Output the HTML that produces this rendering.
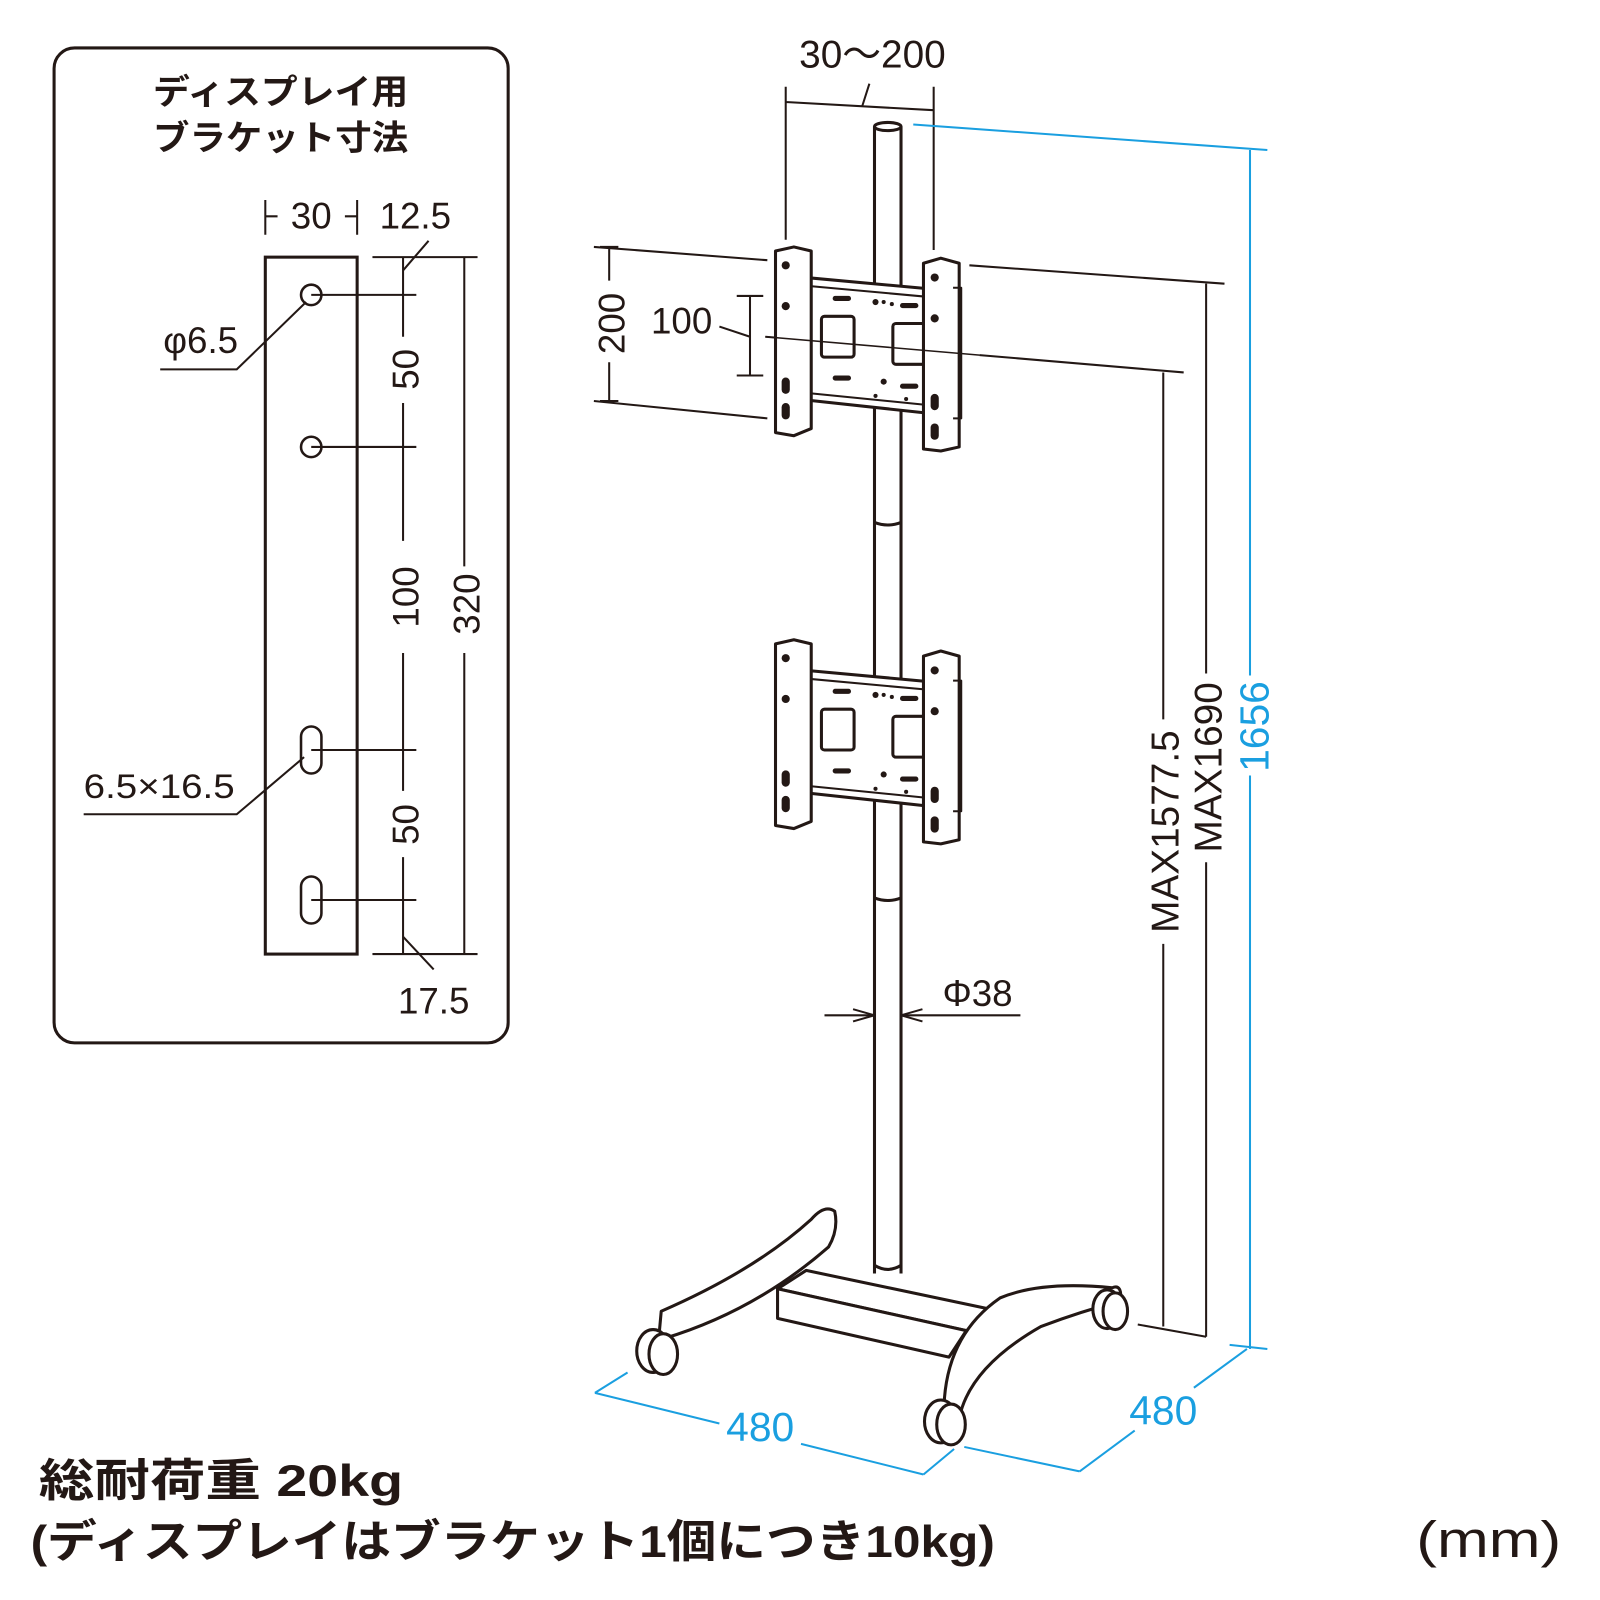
<!DOCTYPE html>
<html><head><meta charset="utf-8"><style>
html,body{margin:0;padding:0;background:#fff}
svg{display:block}
text{font-family:"Liberation Sans","Noto Sans CJK JP",sans-serif}
</style></head><body>
<svg width="1600" height="1600" viewBox="0 0 1568 1568" xmlns="http://www.w3.org/2000/svg">
<g fill="none" stroke="#231815" stroke-width="2">
<rect x="53" y="47" width="445" height="975" rx="20" stroke-width="3"/>
<rect x="260" y="252" width="90" height="683" stroke-width="3"/>
<circle cx="305" cy="289" r="10" stroke-width="2.5"/>
<circle cx="305" cy="438" r="10" stroke-width="2.5"/>
<rect x="295" y="712" width="20" height="46" rx="10" stroke-width="2.5"/>
<rect x="295" y="859" width="20" height="46" rx="10" stroke-width="2.5"/>
<path d="M305 289H408M305 438H408M305 735H408M305 882H408M365 252H468M365 935H468"/>
<path d="M395 252V330M395 395V530M395 640V775M395 840V935"/>
<path d="M455 252V555M455 640V935"/>
<path d="M260 196V230M350 196V230M260 212H272M338 212H350"/>
<path d="M395 265L420 236M395 918L425 950"/>
<path d="M157 362H232L300 296M82 798H232L298 742"/>
<path d="M857 124V1248M883 124V1248" stroke-width="3"/>
<ellipse cx="870" cy="124" rx="13" ry="4" stroke-width="3"/>
<path d="M857 512Q870 517 883 512M857 880Q870 885 883 880" stroke-width="3"/>
<path d="M770 85V235M915 85V245M770 100L915 108M845 104L852 82"/>
<path d="M582 242L752 255M582 393L752 410M597 242V275M597 355V393M588 242H606M588 393H606"/>
<path d="M735 290V368M722 290H748M722 368H748M705 320L735 330M750 330L935 345"/>
<path d="M950 260L1200 278M1182 278V660M1182 845V1310M960 348L1160 365M1140 365V705M1140 925V1300M1115 1298L1182 1310"/>
<path d="M808 995H857M883 995H1000"/>
<path d="M857 995L836 989M857 995L836 1001M883 995L904 989M883 995L904 1001"/>
</g>
<g id="br" fill="#fff" stroke="#231815" stroke-width="3" stroke-linejoin="round">
<path d="M790 272L910 283V405L790 392Z"/>
<path d="M790 280L910 291M790 385L910 397" fill="none" stroke-width="2"/>
<rect x="805" y="310" width="32" height="40" rx="3"/>
<rect x="875" y="317" width="32" height="40" rx="3"/>
<path d="M760 246L778 242L795 246V420L778 427L760 424Z"/>
<path d="M905 258L922 253L940 258V438L922 442L905 440Z"/>
<path d="M934 282H942V410H934" fill="none" stroke-width="2"/>
<g fill="#231815" stroke="none">
<circle cx="770" cy="260" r="4"/><circle cx="770" cy="300" r="4"/>
<rect x="766" y="370" width="8" height="16" rx="4"/><rect x="766" y="395" width="8" height="16" rx="4"/>
<circle cx="916" cy="272" r="4"/><circle cx="916" cy="312" r="4"/>
<rect x="912" y="386" width="8" height="16" rx="4"/><rect x="912" y="415" width="8" height="16" rx="4"/>
<rect x="816" y="290" width="18" height="5" rx="2.5"/><rect x="882" y="297" width="18" height="5" rx="2.5"/>
<rect x="816" y="368" width="18" height="5" rx="2.5"/><rect x="882" y="376" width="18" height="5" rx="2.5"/>
<circle cx="858" cy="296" r="3"/><circle cx="866" cy="296" r="2"/><circle cx="874" cy="298" r="2"/>
<circle cx="866" cy="374" r="3"/><circle cx="858" cy="388" r="2"/><circle cx="888" cy="391" r="2"/>
</g>
</g>
<use href="#br" transform="translate(0,385)"/>
<path d="M750 330L960 348" stroke="#231815" stroke-width="1.5" fill="none"/>
<g fill="#fff" stroke="#231815" stroke-width="3" stroke-linejoin="round">
<path d="M790 1245L980 1285L947 1304L762 1263Z"/>
<path d="M762 1263L947 1304L930 1330L762 1292Z"/>
<path d="M650 1312Q740 1285 812 1222Q822 1205 818 1187Q808 1180 795 1195Q740 1245 648 1285L646 1307Z"/>
<path d="M925 1385Q925 1310 980 1272Q1020 1255 1090 1262Q1100 1258 1098 1275Q1060 1285 1020 1300Q950 1340 940 1390Z"/>
<path d="M857 1240Q870 1248 883 1240" fill="none"/>
<ellipse cx="640" cy="1324" rx="16" ry="21"/><ellipse cx="650" cy="1327" rx="14" ry="20"/>
<ellipse cx="922" cy="1393" rx="16" ry="21"/><ellipse cx="932" cy="1396" rx="14" ry="20"/>
<ellipse cx="1085" cy="1283" rx="14" ry="19"/><ellipse cx="1093" cy="1285" rx="12" ry="18"/>
</g>
<g fill="none" stroke="#1a9fe0" stroke-width="2">
<path d="M895 122L1242 147M1225 147V662M1225 760V1322M1205 1318L1242 1322"/>
<path d="M583 1365L705 1395M785 1415L905 1445M583 1365L615 1345M905 1445L935 1420"/>
<path d="M945 1418L1058 1442M1058 1442L1112 1402M1170 1360L1222 1322"/>
</g>
<g fill="#231815">
<text x="150" y="102" font-size="34" font-weight="bold" textLength="250" lengthAdjust="spacingAndGlyphs">ディスプレイ用</text>
<text x="150" y="147" font-size="34" font-weight="bold" textLength="250" lengthAdjust="spacingAndGlyphs">ブラケット寸法</text>
<text x="305" y="224" font-size="36" text-anchor="middle">30</text>
<text x="372" y="224" font-size="36">12.5</text>
<text x="160" y="346" font-size="36">φ6.5</text>
<text x="82" y="782" font-size="34" textLength="148" lengthAdjust="spacingAndGlyphs">6.5×16.5</text>
<text x="390" y="993" font-size="36">17.5</text>
<text transform="translate(410,362) rotate(-90)" font-size="36" text-anchor="middle">50</text>
<text transform="translate(410,585) rotate(-90)" font-size="36" text-anchor="middle">100</text>
<text transform="translate(410,808) rotate(-90)" font-size="36" text-anchor="middle">50</text>
<text transform="translate(470,592) rotate(-90)" font-size="36" text-anchor="middle">320</text>
<text x="855" y="66" font-size="38" text-anchor="middle">30～200</text>
<text transform="translate(612,317) rotate(-90)" font-size="36" text-anchor="middle">200</text>
<text x="638" y="327" font-size="36">100</text>
<text x="958" y="986" font-size="36" text-anchor="middle">Φ38</text>
<text transform="translate(1197,752) rotate(-90)" font-size="38" text-anchor="middle">MAX1690</text>
<text transform="translate(1155,815) rotate(-90)" font-size="38" text-anchor="middle">MAX1577.5</text>
<text x="38" y="1466" font-size="44" font-weight="bold" textLength="357" lengthAdjust="spacingAndGlyphs">総耐荷重 20kg</text>
<text x="30" y="1526" font-size="44" font-weight="bold" textLength="945" lengthAdjust="spacingAndGlyphs">(ディスプレイはブラケット1個につき10kg)</text>
<text x="1530" y="1526" font-size="50" text-anchor="end" textLength="142" lengthAdjust="spacingAndGlyphs">(mm)</text>
</g>
<g fill="#1a9fe0">
<text transform="translate(1243,712) rotate(-90)" font-size="40" text-anchor="middle">1656</text>
<text x="745" y="1412" font-size="40" text-anchor="middle">480</text>
<text x="1140" y="1396" font-size="40" text-anchor="middle">480</text>
</g>
</svg>
</body></html>
